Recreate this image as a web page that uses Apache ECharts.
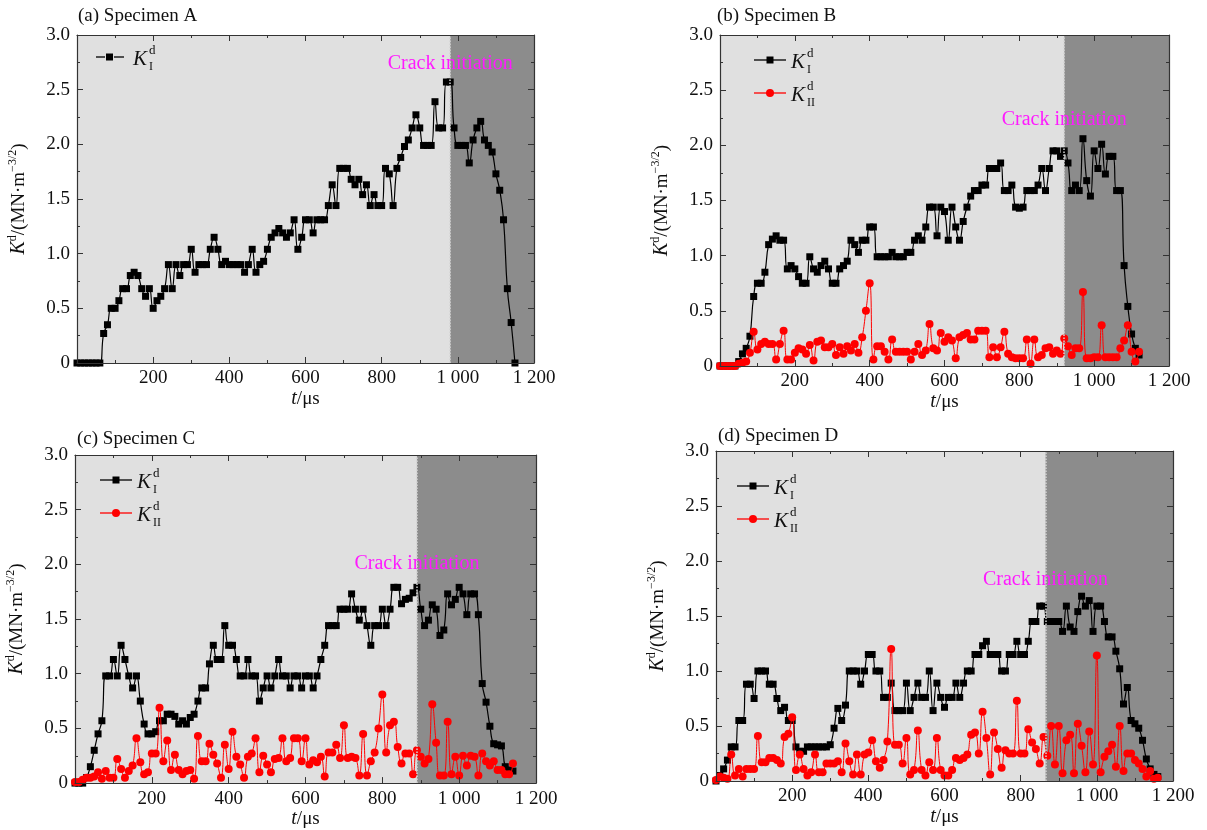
<!DOCTYPE html>
<html>
<head>
<meta charset="utf-8">
<script src="https://cdn.jsdelivr.net/npm/echarts@6/dist/echarts.min.js"></script>
<style>
html, body { margin: 0; padding: 0; background: #fff; }
#chart { width: 1207px; height: 830px; }
</style>
</head>
<body>
<div id="chart"></div>
<script>
// sampling times (µs), shared by all specimens
var times = [0,10,20,30,40,50,60,70,80,90,100,110,120,130,140,150,160,170,180,190,
  200,210,220,230,240,250,260,270,280,290,300,310,320,330,340,350,360,370,380,390,
  400,410,420,430,440,450,460,470,480,490,500,510,520,530,540,550,560,570,580,590,
  600,610,620,630,640,650,660,670,680,690,700,710,720,730,740,750,760,770,780,790,
  800,810,820,830,840,850,860,870,880,890,900,910,920,930,940,950,960,970,980,990,
  1000,1010,1020,1030,1040,1050,1060,1070,1080,1090,1100,1110,1120,1130,1140,1150,1160];

var panelTitles = ['(a) Specimen A', '(b) Specimen B', '(c) Specimen C', '(d) Specimen D'];
var crackTimes = [980, 920, 890, 865];
var crackLabelY = [2.74, 2.23, 2.01, 1.83];

// specimen A
var kIA = [0,0,0,0,0,0,0,0.27,0.35,0.50,
  0.50,0.57,0.68,0.68,0.80,0.83,0.80,0.68,0.61,0.68,
  0.50,0.57,0.61,0.68,0.90,0.68,0.90,0.80,0.90,0.90,
  1.04,0.83,0.90,0.90,0.90,1.04,1.15,1.04,0.90,0.93,
  0.90,0.90,0.90,0.90,0.83,0.90,1.04,0.83,0.90,0.93,
  1.04,1.15,1.19,1.23,1.19,1.15,1.19,1.31,1.04,1.15,
  1.31,1.31,1.19,1.31,1.31,1.31,1.44,1.63,1.44,1.78,
  1.78,1.78,1.68,1.63,1.68,1.54,1.63,1.44,1.54,1.44,
  1.44,1.78,1.73,1.44,1.78,1.88,1.98,2.04,2.15,2.27,
  2.15,1.99,1.99,1.99,2.39,2.15,2.15,2.57,2.57,2.15,
  1.99,1.99,1.99,1.83,2.04,2.15,2.21,2.04,1.99,1.93,
  1.73,1.58,1.31,0.68,0.37,0];

// specimen B
var kIB = [0,0,0,0,0,0.04,0.11,0.16,0.27,0.63,
  0.75,0.75,0.85,1.10,1.15,1.18,1.14,1.14,0.88,0.91,
  0.88,0.81,0.75,0.75,0.99,0.88,0.85,0.91,0.95,0.88,
  0.75,0.75,0.88,0.91,0.95,1.14,1.10,1.03,1.14,1.14,
  1.26,1.26,0.99,0.99,0.99,0.99,1.03,0.99,0.99,0.99,
  1.03,1.03,1.14,1.18,1.14,1.26,1.44,1.44,1.18,1.44,
  1.40,1.14,1.44,1.26,1.14,1.31,1.44,1.54,1.59,1.59,
  1.64,1.64,1.79,1.79,1.79,1.84,1.59,1.59,1.64,1.44,
  1.43,1.44,1.59,1.59,1.59,1.64,1.79,1.59,1.79,1.95,
  1.95,1.90,1.95,1.84,1.59,1.64,1.59,2.06,1.68,1.54,
  1.95,1.79,2.01,1.74,1.90,1.90,1.59,1.59,0.91,0.54,
  0.29,0.16,0.10];
var kIIB = [0,0,0,0,0,0.02,0.03,0.04,0.12,0.31,
  0.15,0.20,0.22,0.20,0.20,0.06,0.20,0.32,0.06,0.06,
  0.12,0.16,0.15,0.11,0.19,0.05,0.22,0.23,0.17,0.17,
  0.20,0.10,0.17,0.11,0.18,0.14,0.20,0.12,0.26,0.50,
  0.75,0.06,0.18,0.18,0.13,0.06,0.24,0.13,0.13,0.13,
  0.13,0.06,0.13,0.20,0.10,0.14,0.38,0.16,0.14,0.30,
  0.22,0.26,0.23,0.07,0.26,0.28,0.30,0.24,0.24,0.32,
  0.32,0.32,0.08,0.17,0.08,0.17,0.31,0.11,0.08,0.07,
  0.07,0.07,0.24,0.02,0.24,0.08,0.10,0.16,0.17,0.11,
  0.14,0.11,0.25,0.18,0.10,0.16,0.16,0.67,0.07,0.07,
  0.08,0.08,0.37,0.08,0.08,0.08,0.08,0.16,0.23,0.37,
  0.13,0.04,0.13];

// specimen C
var kIC = [0,0,0,0.05,0.15,0.30,0.45,0.57,0.98,0.98,
  1.13,0.98,1.26,1.13,0.98,0.87,0.98,0.75,0.54,0.45,
  0.45,0.47,0.57,0.57,0.63,0.63,0.61,0.54,0.57,0.54,
  0.60,0.63,0.75,0.87,0.87,1.09,1.26,1.13,1.13,1.44,
  1.26,1.26,1.13,0.98,0.98,1.13,0.98,0.98,0.75,0.87,
  0.98,0.87,0.98,1.13,0.98,0.98,0.87,0.98,0.98,0.87,
  0.98,0.98,0.87,0.98,1.13,1.26,1.44,1.44,1.44,1.59,
  1.59,1.59,1.73,1.59,1.49,1.59,1.44,1.26,1.44,1.44,
  1.59,1.44,1.59,1.79,1.79,1.64,1.68,1.69,1.74,1.79,
  1.59,1.44,1.49,1.63,1.59,1.35,1.40,1.73,1.63,1.68,
  1.79,1.73,1.54,1.73,1.73,1.54,0.91,0.74,0.52,0.36,
  0.35,0.34,0.15,0.12,0.11];
var kIIC = [0.01,0.01,0.03,0.05,0.05,0.06,0.10,0.04,0.11,0.05,
  0.05,0.22,0.13,0.05,0.11,0.16,0.41,0.19,0.08,0.10,
  0.27,0.27,0.69,0.20,0.39,0.12,0.26,0.12,0.08,0.11,
  0.12,0.04,0.43,0.20,0.20,0.36,0.26,0.18,0.05,0.35,
  0.13,0.47,0.24,0.17,0.05,0.24,0.27,0.41,0.10,0.25,
  0.17,0.10,0.22,0.23,0.41,0.20,0.23,0.41,0.41,0.20,
  0.41,0.17,0.21,0.19,0.24,0.06,0.28,0.28,0.35,0.23,
  0.53,0.23,0.24,0.23,0.07,0.45,0.07,0.20,0.28,0.50,
  0.81,0.28,0.53,0.56,0.33,0.18,0.27,0.27,0.08,0.30,
  0.24,0.18,0.22,0.72,0.37,0.07,0.07,0.56,0.08,0.24,
  0.07,0.25,0.16,0.25,0.24,0.07,0.27,0.20,0.16,0.20,
  0.12,0.12,0.08,0.08,0.18];

// specimen D
var kID = [0,0.05,0.11,0.19,0.31,0.31,0.55,0.55,0.88,0.88,
  0.75,1.00,1.00,1.00,0.88,0.88,0.75,0.64,0.67,0.55,
  0.55,0.31,0.27,0.27,0.31,0.31,0.31,0.31,0.31,0.31,
  0.33,0.48,0.66,0.55,0.69,1.00,1.00,1.00,0.88,1.00,
  1.15,1.15,1.00,1.00,0.76,0.76,0.89,0.64,0.64,0.64,
  0.89,0.64,0.76,0.89,0.76,0.76,1.00,0.64,0.89,0.76,
  0.67,0.76,0.76,0.89,0.76,0.89,1.00,1.00,1.15,1.15,
  1.23,1.27,1.15,1.15,1.15,1.00,1.00,1.15,1.15,1.27,
  1.15,1.15,1.27,1.45,1.45,1.59,1.59,1.45,1.45,1.45,
  1.45,1.36,1.59,1.40,1.36,1.54,1.68,1.59,1.64,1.36,
  1.59,1.59,1.45,1.31,1.31,1.18,1.02,0.70,0.85,0.55,
  0.52,0.48,0.37,0.20,0.11,0.06,0.04];
var kIID = [0.01,0.04,0.03,0.02,0.24,0.05,0.11,0.04,0.11,0.11,
  0.11,0.41,0.17,0.17,0.21,0.21,0.19,0.16,0.40,0.43,
  0.58,0.10,0.24,0.11,0.05,0.08,0.24,0.08,0.08,0.16,
  0.16,0.16,0.18,0.08,0.34,0.18,0.06,0.24,0.06,0.24,
  0.26,0.37,0.18,0.12,0.19,0.36,1.20,0.33,0.33,0.16,
  0.39,0.06,0.10,0.46,0.10,0.05,0.17,0.10,0.39,0.10,
  0.05,0.05,0.10,0.21,0.19,0.21,0.24,0.42,0.44,0.25,
  0.63,0.39,0.06,0.44,0.29,0.12,0.28,0.25,0.25,0.73,
  0.25,0.25,0.47,0.35,0.29,0.16,0.40,0.23,0.50,0.15,
  0.50,0.07,0.37,0.42,0.07,0.52,0.32,0.08,0.45,0.15,
  1.14,0.08,0.22,0.27,0.33,0.13,0.50,0.09,0.25,0.25,
  0.19,0.16,0.11,0.04,0.09,0.02,0.03];

var panelSeries = [
  [kIA],
  [kIB, kIIB],
  [kIC, kIIC],
  [kID, kIID]
];

// layout
var SERIF = '"Liberation Serif", "DejaVu Serif", serif';
var grids = [
  { left: 77, top: 35, width: 457, height: 328 },
  { left: 720, top: 35, width: 449, height: 331 },
  { left: 75, top: 455, width: 461, height: 329 },
  { left: 716, top: 451, width: 457, height: 330 }
];
var titlePos = [[78, 7], [717, 7], [77, 430], [718, 427]];
var legendPos = [[96, 57], [754, 60], [100, 480], [737, 486]];
var COLORS = ['#000000', '#ff0000'];

var myChart = echarts.init(document.getElementById('chart'));

function pairs(vals) {
  return vals.map(function (v, i) { return [times[i], v]; });
}

function fmtX(v) {
  if (v === 0) return '';
  if (v >= 1000) return '1 ' + ('00' + (v - 1000)).slice(-3);
  return String(v);
}

function fmtY(v) {
  return v === 0 ? '0' : v.toFixed(1);
}

var tickLine = { color: '#333', width: 1 };

function xAxisFor(p, top) {
  return {
    type: 'value', gridIndex: p, position: top ? 'top' : 'bottom',
    min: 0, max: 1200, interval: 200, z: 10,
    axisLine: { show: true, onZero: false, lineStyle: { color: '#333', width: 1.2 } },
    axisTick: { show: true, inside: true, length: 6, lineStyle: tickLine },
    minorTick: { show: true, splitNumber: 2, length: 3, lineStyle: tickLine },
    splitLine: { show: false },
    axisLabel: { show: !top, margin: 6, fontFamily: SERIF, fontSize: 19, color: '#111', formatter: fmtX },
    name: top ? '' : '{t|t}{n|/μs}',
    nameLocation: 'middle', nameGap: 24,
    nameTextStyle: {
      rich: {
        t: { fontFamily: SERIF, fontStyle: 'italic', fontSize: 20, color: '#111' },
        n: { fontFamily: SERIF, fontSize: 19, color: '#111' }
      }
    }
  };
}

function yAxisFor(p, right) {
  return {
    type: 'value', gridIndex: p, position: right ? 'right' : 'left',
    min: 0, max: 3, interval: 0.5, z: 10,
    axisLine: { show: true, onZero: false, lineStyle: { color: '#333', width: 1.2 } },
    axisTick: { show: true, inside: true, length: 6, lineStyle: tickLine },
    minorTick: { show: true, splitNumber: 2, length: 3, lineStyle: tickLine },
    splitLine: { show: false },
    axisLabel: { show: !right, margin: 7, fontFamily: SERIF, fontSize: 19, color: '#111', formatter: fmtY },
    name: right ? '' : '{k|K}{s|d}{n|/(MN·m}{s|−3/2}{n|)}',
    nameLocation: 'middle', nameGap: 46,
    nameTextStyle: {
      rich: {
        k: { fontFamily: SERIF, fontStyle: 'italic', fontSize: 20, lineHeight: 24, color: '#111' },
        s: { fontFamily: SERIF, fontSize: 12, lineHeight: 13, verticalAlign: 'top', color: '#111' },
        n: { fontFamily: SERIF, fontSize: 19, lineHeight: 24, color: '#111' }
      }
    }
  };
}

var xAxes = [], yAxes = [], series = [], titles = [], graphics = [];

grids.forEach(function (g, p) {
  xAxes.push(xAxisFor(p, false), xAxisFor(p, true));
  yAxes.push(yAxisFor(p, false), yAxisFor(p, true));

  titles.push({
    text: panelTitles[p], left: titlePos[p][0], top: titlePos[p][1], padding: 0,
    textStyle: { fontFamily: SERIF, fontSize: 19, fontWeight: 'normal', color: '#111' }
  });

  var crack = crackTimes[p];
  panelSeries[p].forEach(function (vals, k) {
    var col = COLORS[k];
    var s = {
      type: 'line', name: k === 0 ? 'KI' : 'KII',
      xAxisIndex: 2 * p, yAxisIndex: 2 * p,
      data: pairs(vals),
      smooth: 0.5,
      symbol: k === 0 ? 'rect' : 'circle',
      symbolSize: k === 0 ? 7 : 8,
      itemStyle: { color: col },
      lineStyle: { color: col, width: k === 0 ? 1.2 : 1 },
      z: k === 0 ? 2 : 3,
      silent: true
    };
    if (k === 0) {
      s.markArea = {
        silent: true,
        data: [
          [{ xAxis: 0, itemStyle: { color: '#e0e0e0' } }, { xAxis: crack }],
          [{ xAxis: crack, itemStyle: { color: '#8c8c8c' } }, { xAxis: 1200 }]
        ]
      };
      s.markLine = {
        silent: true, symbol: ['none', 'none'], label: { show: false },
        lineStyle: { color: '#d4d4d4', type: 'dotted', width: 1.5 },
        data: [{ xAxis: crack }]
      };
      s.markPoint = {
        silent: true, symbol: 'rect', symbolSize: 1,
        itemStyle: { color: 'rgba(0,0,0,0)' },
        label: { show: true, position: 'inside', formatter: 'Crack initiation', color: '#ff1aff', fontFamily: SERIF, fontSize: 20 },
        data: [{ coord: [crack, crackLabelY[p]] }]
      };
    }
    series.push(s);

    // legend row drawn as graphic
    var lx = legendPos[p][0], ly = legendPos[p][1] + k * 33;
    if (p === 0) {
      graphics.push({ type: 'line', z: 100, shape: { x1: lx, y1: ly, x2: lx + 9, y2: ly }, style: { stroke: col, lineWidth: 1.3 } });
      graphics.push({ type: 'line', z: 100, shape: { x1: lx + 18, y1: ly, x2: lx + 28, y2: ly }, style: { stroke: col, lineWidth: 1.3 } });
      graphics.push({ type: 'rect', z: 100, shape: { x: lx + 10, y: ly - 3.5, width: 7, height: 7 }, style: { fill: col } });
    } else {
      graphics.push({ type: 'line', z: 100, shape: { x1: lx, y1: ly, x2: lx + 32, y2: ly }, style: { stroke: col, lineWidth: 1.3 } });
      if (k === 0) {
        graphics.push({ type: 'rect', z: 100, shape: { x: lx + 12.5, y: ly - 3.5, width: 7, height: 7 }, style: { fill: col } });
      } else {
        graphics.push({ type: 'circle', z: 100, shape: { cx: lx + 16, cy: ly, r: 4 }, style: { fill: col } });
      }
    }
    var tx = lx + 37;
    graphics.push({ type: 'text', z: 100, style: { x: tx, y: ly + 2, text: 'K', font: 'italic 21px ' + SERIF, fill: '#111', verticalAlign: 'middle' } });
    graphics.push({ type: 'text', z: 100, style: { x: tx + 16, y: ly - 6, text: 'd', font: '13px ' + SERIF, fill: '#111', verticalAlign: 'middle' } });
    graphics.push({ type: 'text', z: 100, style: { x: tx + 16, y: ly + 10, text: k === 0 ? 'I' : 'II', font: '12px ' + SERIF, fill: '#111', verticalAlign: 'middle' } });
  });
});

var option = {
  backgroundColor: '#ffffff',
  animation: false,
  title: titles,
  grid: grids.map(function (g) { return { left: g.left, top: g.top, width: g.width, height: g.height, show: false }; }),
  xAxis: xAxes,
  yAxis: yAxes,
  series: series,
  graphic: graphics
};
myChart.setOption(option);
</script>
</body>
</html>
